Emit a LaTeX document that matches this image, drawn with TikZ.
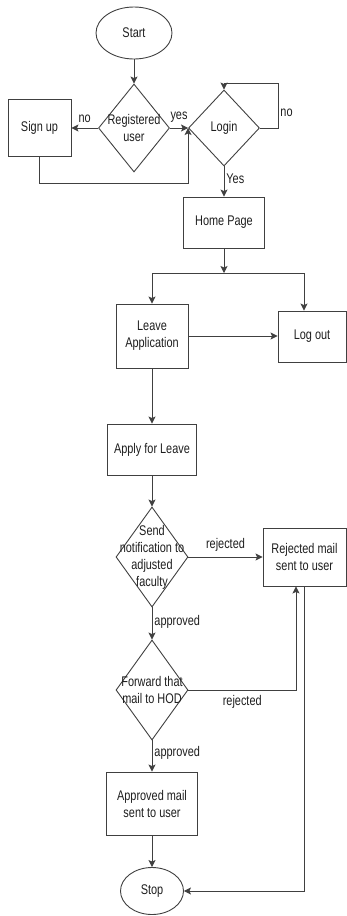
\documentclass[tikz,border=0pt]{standalone}
\usepackage{fontspec}
\setmainfont[FakeStretch=0.78]{Liberation Sans}
\usetikzlibrary{arrows.meta,positioning,shapes.geometric,calc}
\definecolor{linegray}{RGB}{64,64,64}
\definecolor{textgray}{RGB}{30,30,30}
\tikzset{
  basefont/.style={font=\fontsize{14pt}{17pt}\selectfont,text=textgray},
  termnode/.style={ellipse,draw=linegray,line width=0.9pt,inner sep=0pt,basefont},
  procnode/.style={rectangle,draw=linegray,line width=0.9pt,inner sep=2pt,align=center,basefont},
  decnode/.style={diamond,draw=linegray,line width=0.9pt,inner sep=0pt},
  dectext/.style={align=center,inner sep=0pt,basefont},
  flowline/.style={-{Stealth[length=7pt,width=7pt,inset=1.5pt]},line width=0.9pt,draw=linegray},
  edgenote/.style={basefont,inner sep=2pt}
}
\begin{document}
\begin{tikzpicture}[x=1pt,y=-1pt]
  \useasboundingbox (0,0) rectangle (347,916);
  % login part
  \node[termnode,minimum width=76pt,minimum height=52pt] (start) at (134,33) {Start};
  \node[decnode,minimum width=71pt,minimum height=88pt,label={[dectext]center:Registered\\user}] (reguser) at (134,128) {};
  \node[procnode,minimum width=63pt,minimum height=57pt] (signup) at (39.5,128) {Sign up};
  \node[decnode,minimum width=71pt,minimum height=76pt,label={[dectext]center:Login}] (login) at (224,128) {};
  \node[procnode,minimum width=81pt,minimum height=51pt] (home) at (224,222.5) {Home Page};
  \coordinate (split) at (224,273);
  \coordinate (loopc) at (278,83);
  \node[procnode,minimum width=72pt,minimum height=64pt] (leave) at (152,336) {Leave\\Application};
  \node[procnode,minimum width=68pt,minimum height=51pt] (logout) at (312,336.5) {Log out};
  % leave workflow
  \node[procnode,minimum width=89pt,minimum height=51pt] (apply) at (152,449.5) {Apply for Leave};
  \node[decnode,minimum width=72pt,minimum height=100pt,label={[dectext]center:Send\\notification to\\adjusted\\faculty}] (notify) at (152,557) {};
  \node[procnode,minimum width=83pt,minimum height=58pt] (rejected) at (304.5,557) {Rejected mail\\sent to user};
  \node[decnode,minimum width=72pt,minimum height=100pt,label={[dectext]center:Forward that\\mail to HOD}] (forward) at (152,690) {};
  \node[procnode,minimum width=91pt,minimum height=63pt] (approved) at (152,803.5) {Approved mail\\sent to user};
  \node[termnode,minimum width=63pt,minimum height=47pt] (stop) at (152,891) {Stop};

  \draw[flowline] (start) -- (reguser);
  \draw[flowline] (reguser.west) -- node[edgenote,above=3pt]{no} (signup.east);
  \draw[flowline] (reguser.east) -- node[edgenote,above=3pt]{yes} (login.west);
  \draw[flowline] (signup.south) -- ++(0,26) -| (login.west);
  \draw[flowline] (login.east) -| node[edgenote,right,pos=0.67]{no} (loopc) -| (login.north);
  \draw[flowline] (login.south) -- node[edgenote,right,pos=0.4]{Yes} (home.north);
  \draw[flowline] (home) -- (split);
  \draw[flowline] (split) -| (leave.north);
  \draw[flowline] (split) -| ($(logout.north)+(-8,0)$);
  \draw[flowline] (leave.east) -- (leave.east -| logout.west);
  \draw[flowline] (leave) -- (apply);
  \draw[flowline] (apply) -- (notify);
  \draw[flowline] (notify.east) -- node[edgenote,above=3pt]{rejected} (rejected.west);
  \draw[flowline] (notify.south) -- node[edgenote,right,pos=0.45]{approved} (forward.north);
  \draw[flowline] (forward.east) -| node[edgenote,below=3pt,pos=0.25]{rejected} ($(rejected.south)+(-8.5,0)$);
  \draw[flowline] (rejected.south) |- (stop.east);
  \draw[flowline] (forward.south) -- node[edgenote,right,pos=0.4]{approved} (approved.north);
  \draw[flowline] (approved) -- (stop);
\end{tikzpicture}
\end{document}
